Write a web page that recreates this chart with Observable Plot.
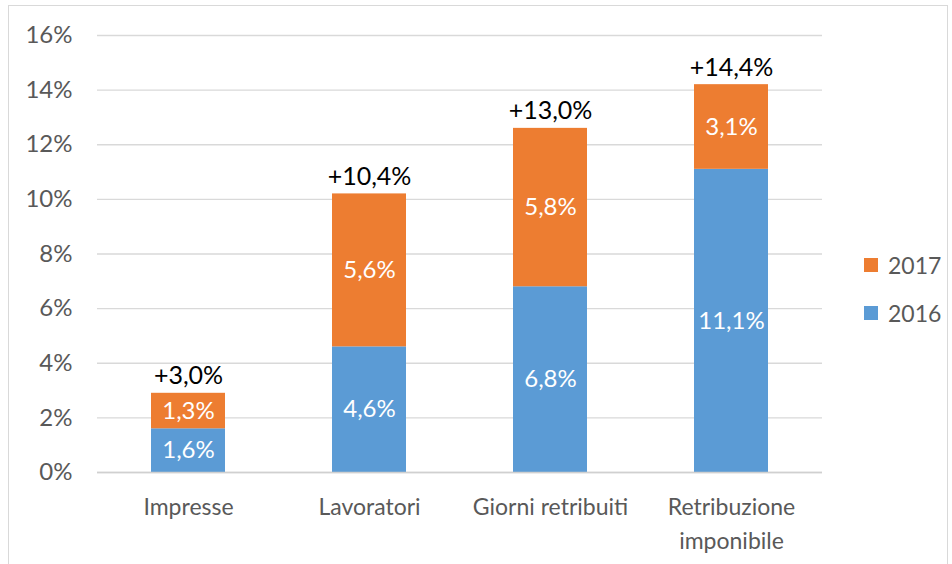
<!DOCTYPE html>
<html><head><meta charset="utf-8">
<script src="https://cdn.jsdelivr.net/npm/d3@7"></script>
<script src="https://cdn.jsdelivr.net/npm/@observablehq/plot@0.6"></script>
<style>
body{margin:0;background:#fff;font-family:Lato,"Open Sans",sans-serif;}
#wrap{position:relative;width:952px;height:564px;overflow:hidden;}
#frame{position:absolute;left:8px;top:5px;width:940px;height:600px;border:1px solid #d9d9d9;box-sizing:border-box;}
#chart{position:absolute;left:0;top:0;}
.leg{position:absolute;left:864px;font-size:23px;color:#595959;display:flex;align-items:center;}
.leg span.sw{display:inline-block;width:14px;height:14px;margin-right:10px;}
</style></head>
<body><div id="wrap"><div id="frame"></div><div id="chart"></div>
<div class="leg" style="top:251px"><span class="sw" style="background:#ED7D31"></span>2017</div>
<div class="leg" style="top:299px"><span class="sw" style="background:#5B9BD5"></span>2016</div>
</div>
<script>
const categories = ["Impresse", "Lavoratori", "Giorni retribuiti", "Retribuzione\nimponibile"];
const values2016 = [1.6, 4.6, 6.8, 11.1];
const values2017 = [1.3, 5.6, 5.8, 3.1];
const totalLabels = ["+3,0%", "+10,4%", "+13,0%", "+14,4%"];
const series = ["2016", "2017"];
const colors = ["#5B9BD5", "#ED7D31"];
const yTicks = [0, 2, 4, 6, 8, 10, 12, 14, 16];

const rows = [];
categories.forEach((c, i) => {
  rows.push({cat: c, serie: "2016", v: values2016[i]});
  rows.push({cat: c, serie: "2017", v: values2017[i]});
});
const totals = categories.map((c, i) => ({cat: c, top: values2016[i] + values2017[i], label: totalLabels[i]}));
const fmt = v => v.toFixed(1).replace(".", ",") + "%";

const chart = Plot.plot({
  width: 840, height: 564,
  marginLeft: 97, marginRight: 18, marginTop: 35, marginBottom: 92,
  style: {fontFamily: "Lato, 'Open Sans', sans-serif", fontSize: "23px", color: "#595959", background: "transparent"},
  x: {domain: categories, paddingInner: 0.59, paddingOuter: 0.295, label: null},
  y: {domain: [0, 16], label: null},
  color: {domain: series, range: colors},
  marks: [
    Plot.gridY(yTicks, {stroke: "#d9d9d9", strokeOpacity: 1, strokeWidth: 1.3}),
    Plot.axisY(yTicks, {tickSize: 0, tickPadding: 25, tickFormat: d => d + "%", fontSize: 24, fill: "#595959", label: null}),
    Plot.axisX({tickSize: 0, tickPadding: 19, fontSize: 23, fill: "#595959", label: null, lineHeight: 1.45}),
    Plot.barY(rows, Plot.stackY({x: "cat", y: "v", fill: "serie", order: series})),
    Plot.text(rows, Plot.stackY({x: "cat", y: "v", z: "serie", order: series, text: d => fmt(d.v), fill: "white", fontSize: 24})),
    Plot.text(totals, {x: "cat", y: "top", text: "label", dy: -17, fill: "black", fontSize: 25}),
    Plot.ruleY([0], {stroke: "#d0d0d0", strokeWidth: 1.5})
  ]
});
document.getElementById("chart").appendChild(chart);
</script></body></html>
